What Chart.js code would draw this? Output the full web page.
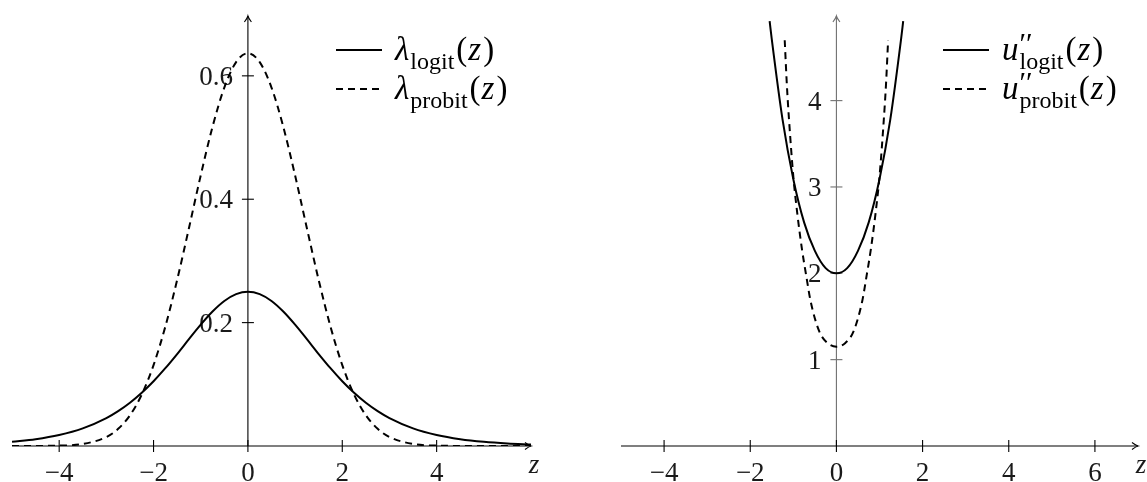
<!DOCTYPE html>
<html>
<head>
<meta charset="utf-8">
<script src="https://cdn.jsdelivr.net/npm/chart.js@4.4.0/dist/chart.umd.min.js"></script>
<style>
  html, body { margin: 0; padding: 0; background: #fff; }
  #wrap { position: relative; width: 1147px; height: 482px; overflow: hidden; }
  canvas { position: absolute; top: 0; }
  #cLeft { left: 0; }
  #cRight { left: 573px; }
</style>
</head>
<body>
<div id="wrap">
  <canvas id="cLeft" width="573" height="482"></canvas>
  <canvas id="cRight" width="574" height="482"></canvas>
</div>
<script>
// ---- left panel: lambda(z) ----
const zLeft = [-5, -4.5, -4, -3.5, -3, -2.75, -2.5, -2.25, -2, -1.75, -1.5, -1.25, -1, -0.75, -0.5, -0.25,
               0, 0.25, 0.5, 0.75, 1, 1.25, 1.5, 1.75, 2, 2.25, 2.5, 2.75, 3, 3.5, 4, 4.5, 5, 5.5, 6];
const lambdaLogit = [0.0067, 0.0109, 0.0177, 0.0285, 0.0452, 0.0565, 0.0701, 0.0863, 0.1050, 0.1261, 0.1491, 0.1731, 0.1966, 0.2179, 0.2350, 0.2461,
                     0.25, 0.2461, 0.2350, 0.2179, 0.1966, 0.1731, 0.1491, 0.1261, 0.1050, 0.0863, 0.0701, 0.0565, 0.0452, 0.0285, 0.0177, 0.0109, 0.0067, 0.0041, 0.0025];
const lambdaProbit = [0, 0.0001, 0.0006, 0.0033, 0.0146, 0.0278, 0.0498, 0.0834, 0.1311, 0.1936, 0.2691, 0.3531, 0.4386, 0.5174, 0.5810, 0.6223,
                      0.6366, 0.6223, 0.5810, 0.5174, 0.4386, 0.3531, 0.2691, 0.1936, 0.1311, 0.0834, 0.0498, 0.0278, 0.0146, 0.0033, 0.0006, 0.0001, 0, 0, 0];
const leftXTicks = [-4, -2, 0, 2, 4];
const leftYTicks = [0.2, 0.4, 0.6];

// ---- right panel: u''(z) ----
const zLogitU = [-1.55, -1.5, -1.25, -1, -0.75, -0.5, -0.25, 0, 0.25, 0.5, 0.75, 1, 1.25, 1.5, 1.55];
const uLogit = [4.92, 4.71, 3.78, 3.09, 2.59, 2.26, 2.06, 2.0, 2.06, 2.26, 2.59, 3.09, 3.78, 4.71, 4.92];
const zProbitU = [-1.2, -1.15, -1.1, -1, -0.9, -0.8, -0.7, -0.6, -0.4, -0.2, 0, 0.2, 0.4, 0.6, 0.7, 0.8, 0.9, 1, 1.1, 1.15, 1.2];
const uProbit = [4.70, 4.18, 3.78, 3.12, 2.66, 2.28, 1.97, 1.68, 1.33, 1.19, 1.15, 1.19, 1.33, 1.68, 1.97, 2.28, 2.66, 3.12, 3.78, 4.18, 4.70];
const rightXTicks = [-4, -2, 0, 2, 4, 6];
const rightYTicks = [1, 2, 3, 4];

const SERIF = "'Liberation Serif', 'DejaVu Serif', serif";
const DASH = [7, 5];

function pts(xs, ys) { return xs.map((x, i) => ({ x: x, y: ys[i] })); }

function fmtTick(v) {
    const s = String(Math.abs(v));
    return v < 0 ? '\u2212' + s : s;
}

function arrowHead(ctx, x, y, dir) {
    // small TikZ-like "to" arrow tip
    ctx.save();
    ctx.translate(x, y);
    ctx.rotate(dir);
    ctx.beginPath();
    ctx.moveTo(-6, -3.5);
    ctx.quadraticCurveTo(-2, -0.5, 0, 0);
    ctx.quadraticCurveTo(-2, 0.5, -6, 3.5);
    ctx.lineWidth = 1.1;
    ctx.stroke();
    ctx.restore();
}

// draws sym_sub(z), with optional double prime
function drawMath(ctx, x, y, sym, sub, prime, size) {
    ctx.textAlign = 'left';
    ctx.textBaseline = 'alphabetic';
    ctx.font = 'italic ' + size + 'px ' + SERIF;
    ctx.fillText(sym, x, y);
    x += ctx.measureText(sym).width;
    const subSize = Math.round(size * 0.72);
    ctx.font = subSize + 'px ' + SERIF;
    const subW = ctx.measureText(sub).width;
    ctx.fillText(sub, x + 1, y + size * 0.26);
    let supW = 0;
    if (prime) {
        ctx.font = Math.round(size * 0.9) + 'px ' + SERIF;
        ctx.fillText(prime, x + 1, y - size * 0.2);
        supW = ctx.measureText(prime).width + 1;
    }
    x += Math.max(subW, supW) + 3;
    ctx.font = size + 'px ' + SERIF;
    ctx.fillText('(', x, y);
    x += ctx.measureText('(').width + 1;
    ctx.font = 'italic ' + size + 'px ' + SERIF;
    ctx.fillText('z', x, y);
    x += ctx.measureText('z').width + 2;
    ctx.font = size + 'px ' + SERIF;
    ctx.fillText(')', x, y);
}

const texAxes = {
    id: 'texAxes',
    beforeDatasetsDraw(chart) {
        const o = chart.options.plugins.texAxes;
        const ctx = chart.ctx;
        const xs = chart.scales.x, ys = chart.scales.y;
        const x0 = xs.getPixelForValue(0), y0 = ys.getPixelForValue(0);
        const L = chart.chartArea.left, R = chart.chartArea.right, T = chart.chartArea.top;
        ctx.save();
        ctx.lineWidth = 1.1;
        // y axis
        ctx.strokeStyle = o.yColor;
        ctx.beginPath(); ctx.moveTo(x0, y0); ctx.lineTo(x0, T); ctx.stroke();
        arrowHead(ctx, x0, T, -Math.PI / 2);
        o.yTicks.forEach(v => {
            const py = ys.getPixelForValue(v);
            ctx.beginPath(); ctx.moveTo(x0 - 6, py); ctx.lineTo(x0 + 6, py); ctx.stroke();
        });
        // x axis
        ctx.strokeStyle = '#000';
        ctx.beginPath(); ctx.moveTo(L, y0); ctx.lineTo(R, y0); ctx.stroke();
        arrowHead(ctx, R, y0, 0);
        o.xTicks.forEach(v => {
            const px = xs.getPixelForValue(v);
            ctx.beginPath(); ctx.moveTo(px, y0 - 6); ctx.lineTo(px, y0 + 6); ctx.stroke();
        });
        // labels
        ctx.fillStyle = '#1a1a1a';
        ctx.font = o.tickSize + 'px ' + SERIF;
        ctx.textBaseline = 'alphabetic';
        ctx.textAlign = 'center';
        o.xTicks.forEach(v => ctx.fillText(fmtTick(v), xs.getPixelForValue(v), y0 + 35));
        ctx.textAlign = 'right';
        o.yTicks.forEach(v => ctx.fillText(fmtTick(v), x0 - 15, ys.getPixelForValue(v) + 9));
        ctx.textAlign = 'center';
        ctx.font = 'italic ' + o.tickSize + 'px ' + SERIF;
        ctx.fillText('z', R + 3, y0 + 27);
        ctx.restore();
    },
    afterDraw(chart) {
        const o = chart.options.plugins.texAxes;
        const ctx = chart.ctx;
        ctx.save();
        ctx.fillStyle = '#000';
        o.legend.forEach((item, i) => {
            const ds = chart.data.datasets[i];
            const ly = o.legendY[i];
            ctx.strokeStyle = '#000';
            ctx.lineWidth = ds.borderWidth;
            ctx.setLineDash(ds.borderDash || []);
            ctx.beginPath(); ctx.moveTo(o.legendX, ly); ctx.lineTo(o.legendX + 46, ly); ctx.stroke();
            ctx.setLineDash([]);
            drawMath(ctx, o.legendX + 59, ly + 10, item.sym, item.sub, item.prime, o.legendSize);
        });
        ctx.restore();
    }
};

function makeChart(id, sets, xr, yr, pad, axes) {
    return new Chart(document.getElementById(id), {
        type: 'line',
        data: {
            datasets: sets.map(s => ({
                data: s.data,
                borderColor: '#000',
                borderWidth: 2,
                borderDash: s.dashed ? DASH : [],
                pointRadius: 0,
                fill: false,
                cubicInterpolationMode: 'monotone'
            }))
        },
        options: {
            responsive: false,
            animation: false,
            layout: { padding: pad },
            scales: {
                x: { type: 'linear', min: xr[0], max: xr[1], display: false },
                y: { type: 'linear', min: yr[0], max: yr[1], display: false }
            },
            plugins: { legend: { display: false }, tooltip: { enabled: false }, texAxes: axes }
        },
        plugins: [texAxes]
    });
}

makeChart('cLeft',
    [{ data: pts(zLeft, lambdaLogit) }, { data: pts(zLeft, lambdaProbit), dashed: true }],
    [-5, 6], [0, 0.697],
    { left: 12, right: 42, top: 16, bottom: 36 },
    {
        xTicks: leftXTicks, yTicks: leftYTicks, yColor: '#000', tickSize: 27,
        legendX: 336, legendY: [50, 89], legendSize: 33,
        legend: [{ sym: '\u03bb', sub: 'logit' }, { sym: '\u03bb', sub: 'probit' }]
    });

makeChart('cRight',
    [{ data: pts(zLogitU, uLogit) }, { data: pts(zProbitU, uProbit), dashed: true }],
    [-5, 7], [0, 4.98],
    { left: 48, right: 9, top: 16, bottom: 36 },
    {
        xTicks: rightXTicks, yTicks: rightYTicks, yColor: '#707070', tickSize: 27,
        legendX: 370, legendY: [50, 89], legendSize: 33,
        legend: [{ sym: 'u', sub: 'logit', prime: '\u2032\u2032' }, { sym: 'u', sub: 'probit', prime: '\u2032\u2032' }]
    });
</script>
</body>
</html>
